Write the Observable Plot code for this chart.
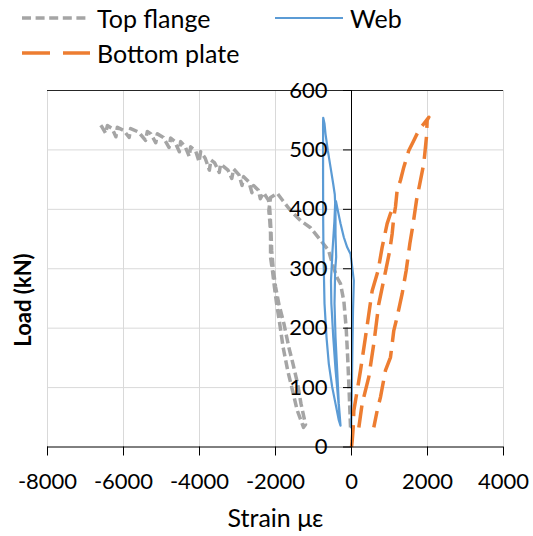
<!DOCTYPE html>
<html><head><meta charset="utf-8">
<script src="https://cdn.jsdelivr.net/npm/d3@7"></script>
<script src="https://cdn.jsdelivr.net/npm/@observablehq/plot@0.6"></script>
<style>
body{margin:0;background:#fff;font-family:Lato,sans-serif;}
#wrap{position:relative;width:533px;height:536px;}
#legend{position:relative;height:70px;width:533px;}
.item{position:absolute;height:30px;font-size:25px;color:#000;line-height:30px;white-space:nowrap;}
.item svg{position:absolute;left:0;top:0;}
.item span{position:absolute;top:0;}
#ylabel{position:absolute;left:22px;top:300px;transform:translate(-50%,-50%) rotate(-90deg);font-size:22px;font-weight:bold;white-space:nowrap;color:#000;}
</style></head><body>
<div id="wrap">
<div id="legend"></div>
<div id="chart"></div>
<div id="ylabel"></div>
</div>
<script>
const seriesNames = ["Top flange", "Web", "Bottom plate"];
const seriesColors = ["#A5A5A5", "#5B9BD5", "#ED7D31"];
const xTicks = [-8000, -6000, -4000, -2000, 0, 2000, 4000];
const yTicks = [0, 100, 200, 300, 400, 500, 600];
const xTitle = "Strain με";
const yTitle = "Load (kN)";

// Top flange: [strain (µε), load (kN)]
const topFlangeLoad1 = [[-26,33],[-60,90],[-100,150],[-140,200],[-200,245],[-290,275],[-370,284],[-473,302],[-605,331],[-815,348],[-1078,369],[-1341,381],[-1604,398],[-1800,414],[-1954,427],[-2130,420]];
const topFlangeUnload1 = [[-2175,398],[-2150,380],[-2130,359],[-2130,319],[-2080,297],[-2030,270],[-1970,241],[-1890,208],[-1800,168],[-1680,129],[-1570,100],[-1430,62],[-1263,33]];
const topFlangeReload = [[-1210,38],[-1330,73],[-1420,107],[-1540,140],[-1650,168],[-1780,208],[-1910,240],[-2000,270],[-2060,300],[-2100,330],[-2120,365],[-2150,400],[-2183,415]];
const topFlangeFinal = [[-2314,428],[-2400,418],[-2450,432],[-2577,440],[-2620,428],[-2700,446],[-2840,455],[-2880,440],[-2960,458],[-3103,468],[-3150,452],[-3250,466],[-3445,476],[-3480,462],[-3600,478],[-3700,483],[-3740,466],[-3850,486],[-3971,497],[-4010,480],[-4100,498],[-4234,505],[-4270,489],[-4380,506],[-4497,514],[-4530,497],[-4650,514],[-4760,520],[-4800,504],[-4950,521],[-5110,527],[-5150,512],[-5280,527],[-5373,531],[-5420,516],[-5600,530],[-5812,536],[-5850,521],[-6000,533],[-6162,538],[-6200,522],[-6300,536],[-6425,541],[-6470,528],[-6560,538],[-6646,546]];

// Web
const webLoad1 = [[-10,33],[10,100],[25,170],[40,230],[55,265],[61,280],[18,303],[-26,325],[-113,336],[-202,353],[-289,376],[-360,398],[-410,414]];
const webUnload1 = [[-421,400],[-421,359],[-403,320],[-430,297],[-447,241],[-421,185],[-377,129],[-334,73],[-289,36]];
const webReload = [[-350,80],[-420,130],[-480,185],[-530,241],[-540,280],[-500,330],[-450,380],[-430,410],[-440,425],[-482,443],[-552,471],[-623,499],[-684,527],[-710,544],[-744,554]];
const webUnload2 = [[-748,545],[-748,450],[-745,380],[-738,330],[-728,297],[-710,241],[-658,185],[-597,140],[-508,101],[-421,73],[-334,45],[-289,36]];

// Bottom plate
const bottomPlateLoad1 = [[0,0],[18,10],[45,33],[61,61],[150,95],[237,129],[368,185],[544,263],[700,297],[806,336],[938,376],[1026,393],[1113,404],[1157,410]];
const bottomPlateReload = [[193,33],[281,73],[456,118],[587,174],[719,241],[900,297],[1008,331],[1070,359],[1113,387],[1157,404],[1201,432],[1289,449],[1376,471],[1508,499],[1640,516],[1771,533],[1903,544],[2034,555]];
const bottomPlateUnload2 = [[1991,550],[1973,522],[1903,477],[1797,443],[1710,415],[1623,376],[1535,342],[1439,297],[1333,258],[1201,219],[1113,196],[1026,151],[894,129],[763,84],[675,61],[587,33]];

const toRows = (series, path, pts) => pts.map(([strain, load]) => ({series, path, strain, load}));
const topRows = toRows("Top flange", "a", [...topFlangeLoad1, ...topFlangeUnload1, ...topFlangeReload, ...topFlangeFinal]);
const webRows = toRows("Web", "a", [...webLoad1, ...webUnload1, ...webReload, ...webUnload2]);
const bottomRows = [...toRows("Bottom plate", "a", bottomPlateLoad1), ...toRows("Bottom plate", "b", [...bottomPlateReload, ...bottomPlateUnload2])];

// legend
const legendSpec = [
  {i: 0, left: 22, top: 3, dash: "9,4.6", w: 3.5},
  {i: 1, left: 275, top: 3, dash: null, w: 2.2},
  {i: 2, left: 22, top: 38, dash: "28,13", w: 3.5}
];
const legend = document.getElementById("legend");
for (const s of legendSpec) {
  const d = document.createElement("div");
  d.className = "item";
  d.style.left = s.left + "px";
  d.style.top = s.top + "px";
  d.innerHTML = `<svg width="70" height="30"><line x1="0" x2="68" y1="15" y2="15" stroke="${seriesColors[s.i]}" stroke-width="${s.w}" ${s.dash ? `stroke-dasharray="${s.dash}"` : ""}/></svg><span style="left:75px">${seriesNames[s.i]}</span>`;
  legend.appendChild(d);
}
document.getElementById("ylabel").textContent = yTitle;

const W = 533, H = 466, mL = 47, mR = 30, mT = 20, mB = 89.5;
const xDomain = [-8000, 4000];
const x0px = (0 - xDomain[0]) / (xDomain[1] - xDomain[0]) * (W - mL - mR);
const fmt = d => String(d);

const chart = Plot.plot({
  width: W, height: H,
  marginLeft: mL, marginRight: mR, marginTop: mT, marginBottom: mB,
  x: {domain: xDomain},
  y: {domain: [0, 600]},
  style: {fontFamily: "Lato, sans-serif", fontSize: "22px", color: "#000", background: "#fff", overflow: "visible"},
  marks: [
    Plot.gridX(xTicks, {stroke: "#d9d9d9", strokeOpacity: 1}),
    Plot.gridY(yTicks.filter(d => d > 0 && d < 600), {stroke: "#d9d9d9", strokeOpacity: 1}),
    Plot.ruleY([600], {stroke: "#262626"}),
    Plot.line(topRows, {x: "strain", y: "load", z: "path", stroke: seriesColors[0], strokeWidth: 3.5, strokeDasharray: "9,4", strokeLinecap: "butt"}),
    Plot.line(webRows, {x: "strain", y: "load", z: "path", stroke: seriesColors[1], strokeWidth: 2.2}),
    Plot.line(bottomRows, {x: "strain", y: "load", z: "path", stroke: seriesColors[2], strokeWidth: 3.5, strokeDasharray: "22,9", strokeLinecap: "butt"}),
    Plot.ruleY([0], {stroke: "#000"}),
    Plot.ruleX([0], {stroke: "#000"}),
    Plot.axisX(xTicks, {tickSize: 9, tickPadding: 17, label: null, fontSize: 22, tickFormat: fmt}),
    Plot.axisY(yTicks, {anchor: "left", dx: x0px, tickSize: 8, tickPadding: 16, label: null, fontSize: 22, tickFormat: fmt}),
    Plot.text([xTitle], {text: d => d, frameAnchor: "bottom", dy: 80, fontSize: 25})
  ]
});
document.getElementById("chart").appendChild(chart);
</script>
</body></html>
